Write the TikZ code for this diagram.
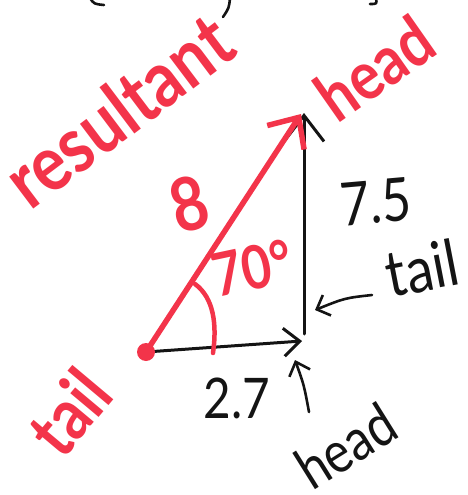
\documentclass[tikz,border=0pt]{standalone}
\usepackage{fontspec}
\usetikzlibrary{arrows.meta}
\newfontfamily\handfont[FakeStretch=0.85]{Lato}
\definecolor{crayon}{RGB}{243,52,74}
\definecolor{ink}{RGB}{20,20,20}
\tikzset{
  redline/.style={draw=crayon, line width=5.5pt, line cap=round, line join=round},
  blackline/.style={draw=ink, line width=3pt, line cap=round, line join=round},
  redtext/.style={text=crayon, inner sep=0pt, font=\handfont\bfseries},
  blacktext/.style={text=ink, inner sep=0pt, font=\handfont},
}
\begin{document}
\begin{tikzpicture}[x=1pt, y=-1pt]
\useasboundingbox (0,0) rectangle (467,495);
% key points
\coordinate (tail) at (146,352);
\coordinate (hx) at (302,341);
\coordinate (vb) at (304,334);
\coordinate (vt) at (304,113);
\coordinate (rt) at (301,114);
\coordinate (arcA) at (195,284);
\coordinate (arcB) at (213,353);
% black horizontal vector
\draw[blackline, -{Straight Barb[length=16pt,width=28pt,line width=3pt]}] (tail) -- (hx);
% black vertical vector
\draw[blackline, -{Straight Barb[length=26pt,width=40pt,line width=3pt]}] (vb) -- (vt);
% red resultant
\draw[redline, -{Straight Barb[length=24pt,width=44pt,line width=5.5pt]}] (tail) -- (rt);
\fill[crayon] (tail) circle (9);
% angle arc
\draw[redline, line width=4.5pt] (arcA) .. controls (214,298) and (217,325) .. (arcB);
% labels
\node[redtext, font=\handfont\bfseries\fontsize{78}{78}\selectfont, rotate=37] (res) at (118,110) {resultant};
\node[redtext, font=\handfont\bfseries\fontsize{68}{68}\selectfont, rotate=35] (rhead) at (375,68) {head};
\node[redtext, font=\handfont\bfseries\fontsize{72}{72}\selectfont, rotate=50] (rtail) at (69,412) {tail};
\node[redtext, font=\handfont\bfseries\fontsize{74}{74}\selectfont, rotate=15] (eight) at (189,204) {8};
\node[redtext, font=\handfont\bfseries\fontsize{60}{60}\selectfont, rotate=12] (ang) at (252,268) {70°};
\node[blacktext, font=\handfont\fontsize{60}{60}\selectfont, rotate=5] (vy) at (376,202) {7.5};
\node[blacktext, font=\handfont\fontsize{56}{56}\selectfont] (vxl) at (237,398) {2.7};
\node[blacktext, font=\handfont\fontsize{64}{64}\selectfont, rotate=11] (btail) at (422,268) {tail};
\node[blacktext, font=\handfont\fontsize{58}{58}\selectfont, rotate=32] (bhead) at (346,446) {head};
% pointer arrows
\coordinate (tp) at (315,310);
\coordinate (tps) at (372,295);
\coordinate (hp) at (295,360);
\coordinate (hps) at (309,412);
\draw[blackline, line width=2.6pt, -{Straight Barb[length=11pt,width=22pt,line width=2.6pt]}] (tps) .. controls (345,298) .. (tp);
\draw[blackline, line width=2.6pt, -{Straight Barb[length=12pt,width=22pt,line width=2.6pt]}] (hps) .. controls (304,385) .. (hp);
% cut-off fragments at top edge
\draw[blackline, line width=2.6pt] (90,-2) .. controls (94,4) .. (104,5);
\draw[blackline, line width=2.6pt] (230,-2) .. controls (229,8) .. (223,17);
\draw[blackline, line width=2.6pt] (376,-2) .. controls (377,4) .. (370,4);
\end{tikzpicture}
\end{document}
